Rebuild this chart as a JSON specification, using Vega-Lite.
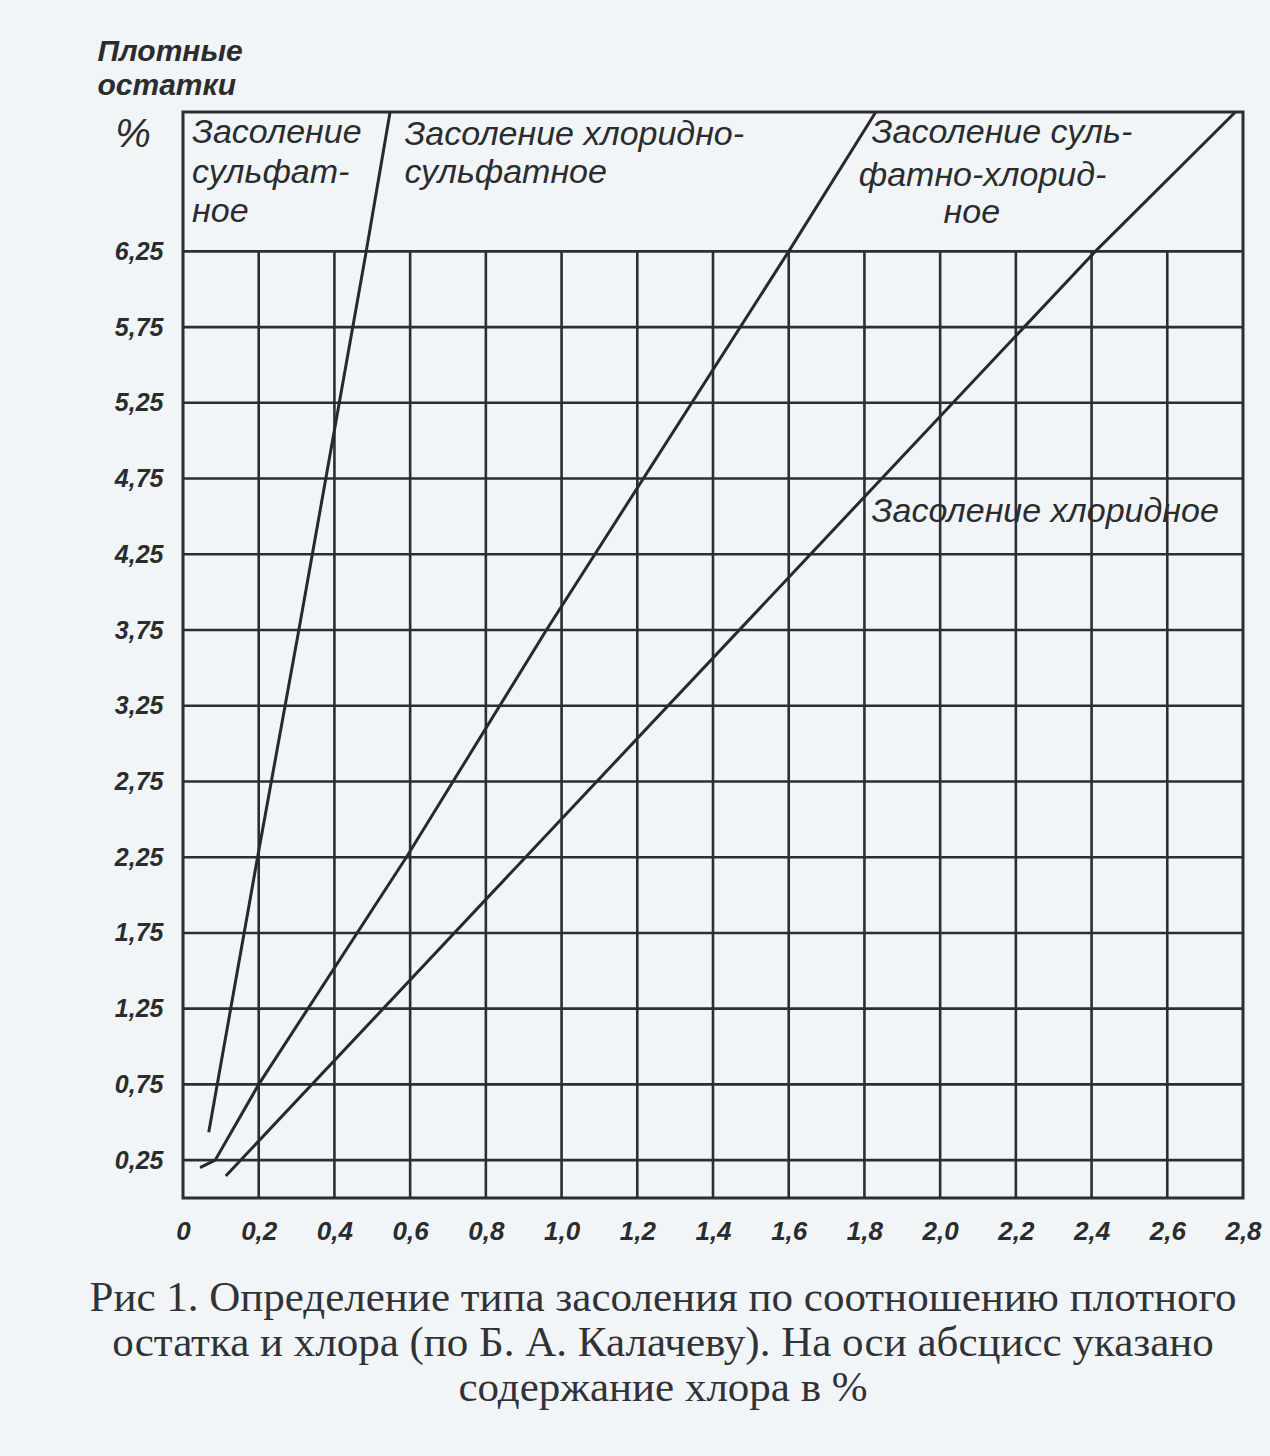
{
  "$schema": "https://vega.github.io/schema/vega-lite/v6.json",
  "width": 1060,
  "height": 1086,
  "autosize": "none",
  "padding": {"left": 183, "top": 112, "right": 27, "bottom": 258},
  "background": "#f2f5f8",
  "config": {
    "view": {"stroke": null},
    "font": "Liberation Sans"
  },
  "title": {
    "text": ["Рис 1. Определение типа засоления по соотношению плотного", "остатка  и хлора (по Б. А. Калачеву). На оси  абсцисс указано", "содержание хлора в %"],
    "orient": "bottom",
    "anchor": "middle",
    "frame": "group",
    "dx": -50,
    "offset": 33,
    "baseline": "top",
    "font": "Liberation Serif",
    "fontSize": 43,
    "fontWeight": "normal",
    "lineHeight": 45,
    "color": "#303236"
  },
  "datasets": {
    "vgrid": [
      {"x": 0.2}, {"x": 0.4}, {"x": 0.6}, {"x": 0.8}, {"x": 1.0}, {"x": 1.2}, {"x": 1.4},
      {"x": 1.6}, {"x": 1.8}, {"x": 2.0}, {"x": 2.2}, {"x": 2.4}, {"x": 2.6}
    ],
    "hgrid": [
      {"y": 0.25}, {"y": 0.75}, {"y": 1.25}, {"y": 1.75}, {"y": 2.25}, {"y": 2.75}, {"y": 3.25},
      {"y": 3.75}, {"y": 4.25}, {"y": 4.75}, {"y": 5.25}, {"y": 5.75}, {"y": 6.25}
    ],
    "lines": [
      {"boundary": "sulfate", "x": 0.068, "y": 0.434},
      {"boundary": "sulfate", "x": 0.197, "y": 2.25},
      {"boundary": "sulfate", "x": 0.306, "y": 3.75},
      {"boundary": "sulfate", "x": 0.484, "y": 6.25},
      {"boundary": "sulfate", "x": 0.547, "y": 7.17},
      {"boundary": "mixed", "x": 0.045, "y": 0.2},
      {"boundary": "mixed", "x": 0.085, "y": 0.25},
      {"boundary": "mixed", "x": 0.2, "y": 0.75},
      {"boundary": "mixed", "x": 0.59, "y": 2.25},
      {"boundary": "mixed", "x": 0.96, "y": 3.75},
      {"boundary": "mixed", "x": 1.6, "y": 6.25},
      {"boundary": "mixed", "x": 1.83, "y": 7.17},
      {"boundary": "chloride", "x": 0.113, "y": 0.145},
      {"boundary": "chloride", "x": 2.41, "y": 6.25},
      {"boundary": "chloride", "x": 2.78, "y": 7.17}
    ],
    "labels": [
      {"text": "Засоление", "x": 0.024, "y": 7.03},
      {"text": "сульфат-", "x": 0.024, "y": 6.77},
      {"text": "ное", "x": 0.024, "y": 6.51},
      {"text": "Засоление хлоридно-", "x": 0.585, "y": 7.02},
      {"text": "сульфатное", "x": 0.585, "y": 6.77},
      {"text": "Засоление суль-", "x": 1.819, "y": 7.03},
      {"text": "фатно-хлорид-", "x": 1.785, "y": 6.75},
      {"text": "ное", "x": 2.009, "y": 6.5},
      {"text": "Засоление хлоридное", "x": 1.819, "y": 4.53}
    ],
    "pct": [{"text": "%", "x": -0.132, "y": 7.02}]
  },
  "layer": [
    {
      "data": {"name": "vgrid"},
      "mark": {"type": "rule", "color": "#2b2f30", "strokeWidth": 2.6},
      "encoding": {
        "x": {
          "field": "x", "type": "quantitative",
          "scale": {"domain": [0, 2.8], "nice": false, "zero": false},
          "axis": {
            "values": [0, 0.2, 0.4, 0.6, 0.8, 1.0, 1.2, 1.4, 1.6, 1.8, 2.0, 2.2, 2.4, 2.6, 2.8],
            "labelExpr": "datum.value == 0 ? '0' : replace(format(datum.value, '.1f'), '.', ',')",
            "title": null, "domain": false, "ticks": false, "grid": false,
            "labelPadding": 20, "labelFontSize": 26, "labelFontStyle": "italic", "labelFontWeight": "bold",
            "labelColor": "#2a2c2e", "labelFont": "Liberation Sans", "labelFlush": false, "labelOverlap": false
          }
        },
        "y": {
          "datum": 0, "type": "quantitative",
          "scale": {"domain": [0, 7.17], "nice": false, "zero": false}
        },
        "y2": {"datum": 6.25}
      }
    },
    {
      "data": {"name": "hgrid"},
      "mark": {"type": "rule", "color": "#2b2f30", "strokeWidth": 2.6},
      "encoding": {
        "y": {
          "field": "y", "type": "quantitative",
          "axis": {
            "values": [0.25, 0.75, 1.25, 1.75, 2.25, 2.75, 3.25, 3.75, 4.25, 4.75, 5.25, 5.75, 6.25],
            "labelExpr": "replace(format(datum.value, '.2f'), '.', ',')",
            "domain": false, "ticks": false, "grid": false,
            "labelPadding": 20, "labelFontSize": 25, "labelFontStyle": "italic", "labelFontWeight": "bold",
            "labelColor": "#2a2c2e", "labelFont": "Liberation Sans", "labelOverlap": false,
            "title": ["Плотные", "остатки"],
            "titleAngle": 0, "titleAlign": "left", "titleBaseline": "top",
            "titleX": -86, "titleY": -76, "titleFont": "Liberation Sans", "titleFontSize": 30,
            "titleFontStyle": "italic", "titleFontWeight": "bold", "titleLineHeight": 34, "titleColor": "#2a2c2e"
          }
        },
        "x": {"datum": 0, "type": "quantitative"},
        "x2": {"datum": 2.8}
      }
    },
    {
      "data": {"values": [{"frame": "border"}]},
      "mark": {"type": "rect", "fillOpacity": 0, "stroke": "#2b2f30", "strokeWidth": 3},
      "encoding": {
        "x": {"datum": 0, "type": "quantitative"},
        "x2": {"datum": 2.8},
        "y": {"datum": 0, "type": "quantitative"},
        "y2": {"datum": 7.17}
      }
    },
    {
      "data": {"name": "lines"},
      "mark": {"type": "line", "color": "#262a2b", "strokeWidth": 3},
      "encoding": {
        "x": {"field": "x", "type": "quantitative"},
        "y": {"field": "y", "type": "quantitative"},
        "detail": {"field": "boundary"},
        "order": {"field": "y", "type": "quantitative"}
      }
    },
    {
      "data": {"name": "labels"},
      "mark": {"type": "text", "align": "left", "baseline": "middle", "font": "Liberation Sans", "fontSize": 34, "fontStyle": "italic", "color": "#2a2c2e"},
      "encoding": {
        "x": {"field": "x", "type": "quantitative"},
        "y": {"field": "y", "type": "quantitative"},
        "text": {"field": "text"}
      }
    },
    {
      "data": {"name": "pct"},
      "mark": {"type": "text", "align": "center", "baseline": "middle", "font": "Liberation Sans", "fontSize": 40, "fontStyle": "italic", "color": "#2a2c2e", "clip": false},
      "encoding": {
        "x": {"field": "x", "type": "quantitative"},
        "y": {"field": "y", "type": "quantitative"},
        "text": {"field": "text"}
      }
    }
  ]
}
